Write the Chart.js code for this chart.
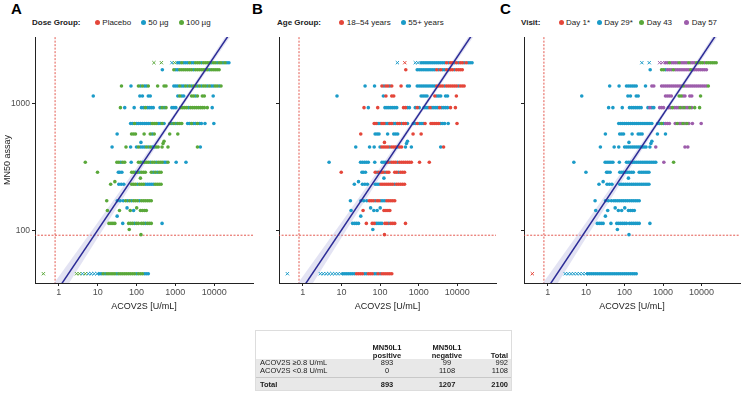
<!DOCTYPE html>
<html>
<head>
<meta charset="utf-8">
<script src="https://cdn.jsdelivr.net/npm/chart.js@4.4.1/dist/chart.umd.min.js"></script>
<style>
body { margin:0; width:745px; height:394px; position:relative; background:#fff; overflow:hidden;
       font-family:"Liberation Sans", Arial, sans-serif; }
.letter { position:absolute; top:1px; font-size:15px; line-height:15px; font-weight:bold; color:#000; }
.leg { position:absolute; top:17.5px; font-size:8px; line-height:10px; color:#222; white-space:nowrap; }
.leg.ttl { font-weight:bold; }
.dot { position:absolute; top:20px; width:5px; height:5px; border-radius:50%; }
.cv { position:absolute; top:30px; }
#tbl { position:absolute; left:255px; top:330px; width:257px; height:61px; border:1px solid #ddd; box-sizing:border-box; }
#tbl .bg { position:absolute; left:0; right:0; top:28px; bottom:0; background:#e8e8e8; }
#tbl .sep { position:absolute; left:0; right:0; top:46px; height:1px; background:#c8c8c8; }
#tbl span { position:absolute; font-size:7.5px; line-height:8px; color:#1a1a1a; white-space:nowrap; }
</style>
</head>
<body>
<div class="letter" style="left:11px">A</div>
<div class="letter" style="left:252px">B</div>
<div class="letter" style="left:500px">C</div>
<canvas id="chartA" class="cv" style="left:0px" width="258" height="290"></canvas>
<canvas id="chartB" class="cv" style="left:255px" width="246" height="290"></canvas>
<canvas id="chartC" class="cv" style="left:500px" width="245" height="290"></canvas>
<div id="tbl"><div class="bg"></div><div class="sep"></div></div>
<script>
// axis ticks
const xTicks = [1, 10, 100, 1000, 10000]
const xTickLabels = ['1', '10', '100', '1000', '10000']
const yTicks = [100, 1000]
const yTickLabels = ['100', '1000']

// MN50 titre levels (one per row of points) and ACOV2S values on each row
const rowY = [2100, 1850, 1378, 1148, 930, 697, 577, 455, 345, 288, 232, 172, 144, 114, 45.8]
const rowX = [
    [281, 437, 815, 955, 1156, 1300, 1461, 1641, 1844, 2072, 2328, 2616, 2939, 3303, 3711, 4170, 4686, 5265, 5916, 6648, 7470, 8394, 9432, 10600, 11900, 13400, 15000, 16900, 19000, 21300, 24000],
    [463, 916, 1030, 1156, 1300, 1461, 1641, 1844, 2072, 2328, 2616, 2939, 3303, 3711, 4170, 4686, 5265, 5916, 6648, 7470, 8394, 9432, 10600, 11900, 13400],
    [41, 72, 112, 126, 142, 160, 179, 201, 350, 512, 575, 916, 1030, 1156, 1300, 1461, 1641, 1844, 2072, 2328, 2616, 2939, 3303, 3711, 4170, 4686, 5265, 5916, 6648, 7470, 8394, 9432, 10600, 11900, 13400, 15000],
    [7.7, 122, 142, 201, 226, 1156, 1300, 1461, 1641, 2616, 2939, 3303, 3711, 4960, 5580, 9432],
    [38.5, 49.7, 87, 134, 151, 169, 190, 213, 240, 270, 405, 455, 512, 575, 815, 916, 1030, 1380, 1550, 1740, 1960, 2200, 2470, 2780, 3120, 3500, 3940, 4430, 4970, 5580, 6648, 8900],
    [70.5, 79.2, 89, 100, 112, 126, 142, 160, 179, 201, 226, 254, 286, 321, 361, 405, 455, 512, 726, 815, 916, 1030, 1156, 1300, 1461, 2072, 2328, 2616, 2939, 3303, 3711, 4170, 4686, 5800, 9800],
    [31.7, 74.6, 84, 94, 157, 226, 254, 286, 715, 1156],
    [23.5, 53.6, 70.5, 100, 112, 126, 142, 160, 179, 201, 226, 254, 286, 321, 361, 455, 646, 3711, 4400],
    [4.8, 31.2, 35, 39.4, 44.2, 49.7, 73, 112, 126, 142, 160, 179, 201, 226, 254, 286, 321, 361, 405, 455, 512, 575, 646, 1050, 1880],
    [9.9, 34, 37, 42, 75, 84, 94, 106, 119, 134, 151, 169, 240, 270, 303, 341, 383, 430],
    [21.6, 35, 40.5, 47, 75, 84, 94, 106, 119, 134, 151, 169, 190, 213, 240, 270, 303, 341, 383, 430],
    [17.1, 32, 38, 45.5, 52.6, 59, 66.5, 74.6, 84, 94, 106, 119, 134, 151, 169, 190, 213, 240],
    [17.8, 36.4, 69, 84, 126, 142, 160, 179],
    [19.5, 22, 24.7, 27.7, 44.2, 62.7, 70.5, 79.2, 89, 100, 112, 134, 151, 169, 190, 213, 240, 455],
    [0.4, 2.86, 3.4, 4.05, 4.8, 5.75, 6.84, 8.15, 9.7, 10.9, 12.3, 13.8, 15.5, 17.4, 19.5, 22, 24.7, 27.7, 31.2, 35, 39.4, 44.2, 49.7, 55.8, 62.7, 70.5, 79.2, 89, 100, 112, 126, 142, 160, 179, 201]
]
// how many leading points of each row are drawn as crosses
const rowCross = [4, 0, 0, 0, 0, 0, 0, 0, 0, 0, 0, 0, 0, 0, 9]

// group of every point, per panel (r/b/g/p)
const doseCode = [
    'ggbg' + 'bbgbbbgbb' + 'gggbggg' + 'gbggbggbgbb',
    'b' + 'gbbgggggggbgggggggbggggg',
    'gb' + 'gbgbbg' + 'g' + 'gg' + 'bbbgbbgbgbggbgbggbgbbggbg',
    'b' + 'bb' + 'bb' + 'bgbb' + 'ggbg' + 'gg' + 'b',
    'gbb' + 'bbgbbbb' + 'bgbg' + 'bbb' + 'ggggbgggggggg' + 'gb',
    'bbgbbbbbbbbgggbbgb' + 'gbgbggg' + 'bbgbbgbb' + 'bb',
    'bgggggbggg',
    'bgb' + 'bgbbbgbgbbgg' + 'gg' + 'gb',
    'g' + 'ggbgg' + 'b' + 'ggbgggbggbgggbbg' + 'bb',
    'g' + 'bbb' + 'ggbgbggg' + 'gbgbgg',
    'g' + 'bbb' + 'gggbgggbbbbbgggg',
    'g' + 'bbb' + 'gbgbgggbgggggg',
    'gggbgggg',
    'gggg' + 'b' + 'gggbgg' + 'ggbggg' + 'b',
    'g' + 'ggbgbbbb' + 'bbgbgggggbgggggggggbgggbbb'
]
const ageCode = [
    'brbb' + 'bbbbbbbbbbbbb' + 'rbrrbrbrrbrbbb',
    'r' + 'bbbbbbbbbb' + 'rbr' + 'bbrb' + 'rrbrrrr',
    'bb' + 'rbrrbr' + 'r' + 'bb' + 'bbbbbbbbbb' + 'rrrrbrrrrrrbrrr',
    'b' + 'br' + 'rr' + 'bbbb' + 'rbbb' + 'bb' + 'r',
    'rbr' + 'bbbbbbb' + 'rrbb' + 'brb' + 'bbbrbbbbrbbbb' + 'rr',
    'rrbbrrbbrrbbrrbrrb' + 'bbrbbbr' + 'rrrrrbbb' + 'br',
    'rbbbbbbbrr',
    'bbb' + 'brrrrbrrrbrr' + 'bb' + 'br',
    'b' + 'bbbbb' + 'b' + 'bbbrbrrrbrrrrrrr' + 'rr',
    'r' + 'bbb' + 'rbrrrbrr' + 'rrbrrr',
    'b' + 'bbb' + 'bbbrrrrrrrbrrrrr',
    'b' + 'bbb' + 'rrrbrrbbbrrrrr',
    'brbbrrrr',
    'bbbb' + 'r' + 'rrbbbb' + 'rrbrrr' + 'r',
    'b' + 'bbbbbbbb' + 'bbbbbbbrrrrbbrrrbbrbrrrrrr'
]
const visitCode = [
    'bbpp' + 'ppgppppgppppgppp' + 'ggggpgggggg',
    'b' + 'ggbpppgppppppppgpppppppp',
    'bb' + 'bbbbbb' + 'b' + 'pp' + 'pppppppppppgppppppppppppg',
    'b' + 'bb' + 'bb' + 'pppp' + 'ggpp' + 'pp' + 'g',
    'bbb' + 'bbbbbbb' + 'bpbb' + 'ppp' + 'ppgpppgpgppgp' + 'gg',
    'bbbbbbbbbbbbbbbbbb' + 'bbgbppp' + 'pgppgpgp' + 'pp',
    'bbbbbbbbbb',
    'bbb' + 'bbbbbbbbbbbb' + 'bp' + 'pp',
    'b' + 'bbbbb' + 'b' + 'bbbbbbbbbbbbbbbb' + 'pg',
    '', '', '', '', '',
    'r' + 'bbbbbbbb'
]

// points lying between the titre rows
const extraX = [130, 512, 483, 126, 27.7, 57, 101, 31.7, 65, 130]
const extraY = [495, 505, 485, 259, 243, 151, 151, 130, 102, 93]
const extraDose = 'bggggbgbgg'
const extraAge = 'rbbbbbbbbr'
const extraVisit = 'bbbbbbbbbb'

// regression line and its confidence band
const fitX = [0.2, 100000]
const fitY = [17, 6670]
const bandX = [0.2, 1, 10, 100, 1000, 10000, 100000]
const bandLo = [12.9, 28.8, 87.9, 265, 783, 2208, 6081]
const bandHi = [22.4, 43.6, 116, 312, 859, 2477, 7311]

// cut-offs
const cutX = 0.8
const cutY = 92

const RED = '#e4463a', BLUE = '#1b9bc8', GREEN = '#5aa83a', PURPLE = '#9d5dab'

const doseGroups = [
    { code: 'r', label: 'Placebo', color: RED },
    { code: 'b', label: '50 µg', color: BLUE },
    { code: 'g', label: '100 µg', color: GREEN },
]
const ageGroups = [
    { code: 'r', label: '18–54 years', color: RED },
    { code: 'b', label: '55+ years', color: BLUE },
]
const visitGroups = [
    { code: 'r', label: 'Day 1*', color: RED },
    { code: 'b', label: 'Day 29*', color: BLUE },
    { code: 'g', label: 'Day 43', color: GREEN },
    { code: 'p', label: 'Day 57', color: PURPLE },
]

// table under the plots
const tableRows = ['ACOV2S ≥0.8 U/mL', 'ACOV2S <0.8 U/mL', 'Total']
const tablePos = [893, 0, 893]
const tableNeg = [99, 1108, 1207]
const tableTot = [992, 1108, 2100]

Chart.defaults.font.family = '"Liberation Sans", Arial, sans-serif'

function buildPoints(codes, extraCodes, groups) {
    const sets = {}
    groups.forEach(g => sets[g.code] = [])
    rowY.forEach((y, r) => {
        rowX[r].forEach((x, i) => {
            const c = (codes[r] || '')[i] || 'b'
            sets[c].push({ x: x, y: y, c: i < rowCross[r] })
        })
    })
    extraX.forEach((x, i) => {
        sets[extraCodes[i] || 'b'].push({ x: x, y: extraY[i], c: false })
    })
    return sets
}

function makePanel(id, codes, extraCodes, groups, drawOrder, yWidth, showY) {
    const sets = buildPoints(codes, extraCodes, groups)
    let datasets = []

    datasets.push({
        data: fitX.map((x, i) => ({ x: x, y: fitY[i] })),
        showLine: true, borderColor: '#2b2b96', borderWidth: 1.5, pointRadius: 0,
    })

    drawOrder.forEach(code => {
        const g = groups.find(g => g.code == code)
        datasets.push({
            data: sets[code],
            backgroundColor: g.color,
            borderColor: g.color,
            pointStyle: ctx => (ctx.raw && ctx.raw.c) ? 'crossRot' : 'circle',
            pointRadius: ctx => (ctx.raw && ctx.raw.c) ? 2.3 : 1.8,
            pointBorderWidth: ctx => (ctx.raw && ctx.raw.c) ? 1 : 0,
        })
    })

    datasets.push({
        data: bandX.map((x, i) => ({ x: x, y: bandHi[i] })),
        showLine: true, borderWidth: 0, pointRadius: 0, borderColor: 'rgba(0,0,0,0)',
        fill: '+1', backgroundColor: 'rgba(185,185,225,0.4)',
    })
    datasets.push({
        data: bandX.map((x, i) => ({ x: x, y: bandLo[i] })),
        showLine: true, borderWidth: 0, pointRadius: 0, borderColor: 'rgba(0,0,0,0)',
    })

    datasets.push({
        data: [{ x: cutX, y: 10 }, { x: cutX, y: 10000 }],
        showLine: true, borderColor: '#e0453b', borderWidth: 0.9, borderDash: [2, 1.5], pointRadius: 0,
    })
    datasets.push({
        data: [{ x: 0.1, y: cutY }, { x: 1000000, y: cutY }],
        showLine: true, borderColor: '#e0453b', borderWidth: 0.9, borderDash: [2, 1.5], pointRadius: 0,
    })

    const config = {
        type: 'scatter',
        data: { datasets: datasets },
        options: {
            responsive: false,
            animation: false,
            events: [],
            layout: { padding: { top: 6, right: 2, left: 0, bottom: 0 } },
            plugins: { legend: { display: false }, tooltip: { enabled: false } },
            scales: {
                x: {
                    type: 'logarithmic',
                    min: 0.243, max: 100000,
                    afterBuildTicks: s => { s.ticks = xTicks.map(v => ({ value: v })) },
                    afterFit: s => { s.height = 37 },
                    ticks: {
                        autoSkip: false, maxRotation: 0, padding: 1,
                        color: '#4d4d4d', font: { size: 9 },
                        callback: v => xTickLabels[xTicks.indexOf(v)] ?? '',
                    },
                    grid: { drawOnChartArea: false, drawTicks: true, tickLength: 3, color: '#222' },
                    border: { display: true, color: '#222', width: 1 },
                    title: {
                        display: true, text: 'ACOV2S [U/mL]', color: '#222',
                        font: { size: 9 }, padding: { top: 0, bottom: 8 },
                    },
                },
                y: {
                    type: 'logarithmic',
                    min: 38.7, max: 3340,
                    afterBuildTicks: s => { s.ticks = yTicks.map(v => ({ value: v })) },
                    afterFit: s => { s.width = yWidth },
                    ticks: {
                        autoSkip: false, padding: 2,
                        color: '#4d4d4d', font: { size: 8.5 },
                        callback: v => showY ? (yTickLabels[yTicks.indexOf(v)] ?? '') : '',
                    },
                    grid: { drawOnChartArea: false, drawTicks: true, tickLength: 3, color: '#222' },
                    border: { display: true, color: '#222', width: 1 },
                    title: {
                        display: showY, text: 'MN50 assay', color: '#222',
                        font: { size: 9 }, padding: { top: 2, bottom: 0 },
                    },
                },
            },
        },
    }
    const ctx = document.getElementById(id).getContext('2d')
    return new Chart(ctx, config)
}

function makeLegend(title, titleLeft, groups, dotCenters) {
    const t = document.createElement('div')
    t.className = 'leg ttl'
    t.style.left = titleLeft + 'px'
    t.textContent = title
    document.body.appendChild(t)
    groups.forEach((g, i) => {
        const d = document.createElement('div')
        d.className = 'dot'
        d.style.left = (dotCenters[i] - 2.5) + 'px'
        d.style.background = g.color
        document.body.appendChild(d)
        const l = document.createElement('div')
        l.className = 'leg'
        l.style.left = (dotCenters[i] + 5) + 'px'
        l.textContent = g.label
        document.body.appendChild(l)
    })
}

function makeTable() {
    const tbl = document.getElementById('tbl')
    const put = (text, x, y, align, bold) => {
        const s = document.createElement('span')
        s.textContent = text
        s.style.top = (y - 4) + 'px'
        if (align == 'left') s.style.left = x + 'px'
        else if (align == 'right') s.style.right = x + 'px'
        else { s.style.left = (x - 40) + 'px'; s.style.width = '80px'; s.style.textAlign = 'center' }
        if (bold) s.style.fontWeight = 'bold'
        tbl.appendChild(s)
    }
    put('MN50L1', 131, 16.5, 'center', true)
    put('positive', 131, 24.5, 'center', true)
    put('MN50L1', 191, 16.5, 'center', true)
    put('negative', 191, 24.5, 'center', true)
    put('Total', 3, 24.5, 'right', true)
    const ys = [31.5, 39.5, 53.5]
    tableRows.forEach((r, i) => {
        const b = i == 2
        put(r, 4, ys[i], 'left', b)
        put(String(tablePos[i]), 131, ys[i], 'center', b)
        put(String(tableNeg[i]), 191, ys[i], 'center', b)
        put(String(tableTot[i]), 3, ys[i], 'right', b)
    })
}

makePanel('chartA', doseCode, extraDose, doseGroups, ['g', 'b', 'r'], 35, true)
makePanel('chartB', ageCode, extraAge, ageGroups, ['r', 'b'], 24, false)
makePanel('chartC', visitCode, extraVisit, visitGroups, ['r', 'g', 'p', 'b'], 24, false)

makeLegend('Dose Group:', 32, doseGroups, [97.3, 143.3, 181])
makeLegend('Age Group:', 277, ageGroups, [341.7, 403.3])
makeLegend('Visit:', 521, visitGroups, [561, 599.3, 641.7, 686.7])
makeTable()
</script>
</body>
</html>
